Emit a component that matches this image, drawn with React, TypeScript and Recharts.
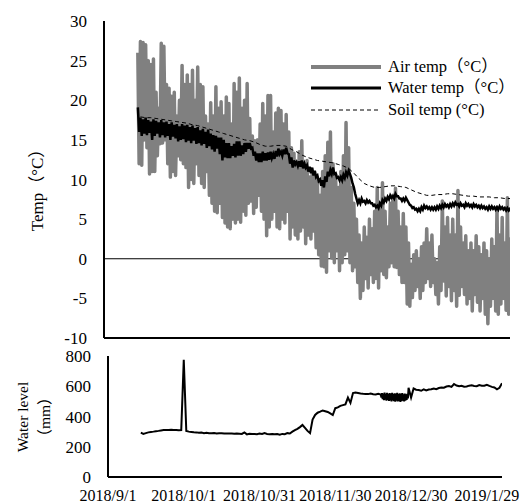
import { Label, Legend, Line, LineChart, ReferenceLine, XAxis, YAxis } from 'recharts';

// days counted from 2018/9/1
const xTickDays = [0, 30, 60, 90, 120, 150];
const xTickLabels = ['2018/9/1', '2018/10/1', '2018/10/31', '2018/11/30', '2018/12/30', '2019/1/29'];
const tempTicks = [-10, -5, 0, 5, 10, 15, 20, 25, 30];
const levelTicks = [0, 200, 400, 600, 800];

// daily series start on day 13 (2018/9/14)
const firstDay = 13;

// air temperature, daily maximum / minimum (°C)
const airHigh = [
  26, 27.4, 27.3, 27, 25, 24.5, 25.2, 21, 19, 27.2,
  26.8, 22, 21.5, 20.5, 21, 18, 20, 24.4, 22, 23.2,
  22, 23.8, 20, 24.2, 22, 21.7, 18, 17, 19.7, 18,
  21.7, 19, 19.8, 18, 20.4, 19.6, 17, 22.1, 21, 22.8,
  19, 20, 22.1, 17.7, 15.5, 14.9, 15, 17, 19.6, 18,
  20.6, 20.6, 16, 18.4, 19, 18.7, 17, 18.2, 16, 14,
  13.3, 12, 13.5, 14.9, 12, 12.4, 10.3, 11, 10.3, 9.9,
  8, 11, 13, 14.7, 16, 12, 10.7, 9, 11, 13,
  17.2, 14, 9, 7, 5, 3, 2, 4, 2.7, 5,
  3.8, 6, 9, 7, 9.6, 6, 4, 7, 8, 8.9,
  6, 4, 5.7, 4, 2, -0.7, 0.5, 1, 0, 1.5,
  2, 3.8, 2, 3, 0, -0.5, 1.5, 7.3, 4, 5.2,
  3, 5, 3, 8.6, 4, 2, 2.9, 1, 2, 1,
  2.9, 1.5, 0.5, 2, 1, 0, 2.5, 1.5, 6.5, 3,
  5.2, 2, 7.7, 2.5,
];
const airLow = [
  12, 11.8, 15, 14, 10.7, 11, 11, 13, 14.5, 14.6,
  15, 12, 10.3, 11, 10.5, 13, 12.5, 12, 11.5, 9,
  10, 9.5, 12, 10.5, 9.5, 9, 11, 8, 7, 6,
  5.8, 7, 5.2, 4.5, 4, 3.8, 5, 4.5, 5, 4.6,
  6, 5.5, 7, 7.3, 5.7, 6.5, 8, 6, 5, 2.9,
  4, 5, 6, 4, 3.8, 5, 4.5, 6, 2.5, 4,
  3, 2.5, 3.5, 4, 1.9, 3, 2.5, 3.5, 1.4, 0.5,
  -0.9, -1, -1.7, 1, 0.1, -0.5, 1, -1.5, -0.5, 0.5,
  1, -0.5, -1.5, -1, -3, -5, -4, -2.5, -3.7, -2,
  -3, -2.5, -3.7, -1.5, -2, -2.4, -1, -0.5, -1, -1.1,
  -2, -3, -3, -5.7, -6, -4.9, -4, -3.5, -5, -4,
  -3, -2.5, -3.5, -3, -4.5, -5.7, -4, -2.8, -4.7, -3.5,
  -5.3, -4, -6, -4.6, -3.5, -4.5, -5.7, -5, -6.6, -4.5,
  -5.5, -6.6, -5, -7, -8.2, -6, -5, -6.6, -7, -5.7,
  -5, -6.5, -7, -3,
];

// water temperature, daily maximum / minimum (°C)
const waterHigh = [
  19.1, 17.8, 17.6, 17.8, 17.5, 17.3, 17.6, 17.4, 17.2, 17.5,
  17.2, 17.3, 17.0, 17.2, 16.9, 17.0, 16.7, 17.0, 16.8, 16.9,
  16.6, 16.8, 16.5, 16.6, 16.2, 16.4, 16.0, 16.3, 15.8, 15.6,
  15.5, 15.3, 15.3, 15.0, 14.6, 14.6, 14.2, 14.5, 14.8, 14.8,
  14.3, 14.6, 14.6, 14.6, 14.0, 13.5, 13.3, 13.3, 13.5, 13.3,
  13.4, 13.5, 13.2, 13.6, 13.9, 13.5, 13.8, 14.0, 13.2, 12.8,
  12.4, 12.2, 12.3, 12.4, 12.0, 11.8, 11.6, 11.5, 11.1, 10.5,
  10.0, 9.9, 10.4, 11.0, 11.2, 11.5, 10.8, 10.3, 10.3, 10.6,
  10.9, 11.1, 10.2, 9.0, 7.6, 7.4, 7.6, 7.3, 7.4, 7.3,
  7.0, 6.8, 6.7, 7.0, 7.4, 7.6, 7.8, 8.0, 7.9, 8.2,
  7.9, 7.6, 7.6, 7.7, 7.1, 6.7, 6.5, 6.3, 6.3, 6.5,
  6.7, 6.6, 6.5, 6.5, 6.5, 6.6, 6.7, 6.8, 6.9, 6.8,
  6.9, 7.0, 7.1, 6.9, 7.0, 6.8, 7.0, 6.9, 6.8, 6.9,
  6.8, 6.7, 6.7, 6.6, 6.5, 6.6, 6.6, 6.5, 6.5, 6.6,
  6.5, 6.4, 6.4, 6.3,
];
const waterLow = [
  16.0, 15.5, 15.8, 15.6, 15.9, 15.0, 15.5, 15.8, 15.3, 15.6,
  15.3, 15.5, 15.0, 15.4, 15.2, 14.8, 15.0, 15.1, 14.7, 14.9,
  14.6, 14.9, 14.5, 14.6, 14.3, 14.5, 14.0, 14.2, 13.8, 13.5,
  13.9, 13.2, 12.4, 12.8, 12.7, 12.7, 13.0, 12.8, 13.0, 13.0,
  13.2, 13.5, 13.9, 13.9, 13.0, 12.4, 12.2, 12.2, 12.4, 12.4,
  12.5, 12.7, 12.6, 12.9, 13.2, 13.0, 13.2, 13.3, 12.0, 11.5,
  11.9, 11.7, 11.6, 11.4, 11.5, 11.0, 10.8, 10.5, 10.3, 9.8,
  9.2, 9.0, 9.7, 10.4, 10.7, 10.7, 10.2, 9.9, 9.9, 10.2,
  10.5, 10.7, 9.5, 8.2, 7.0, 7.0, 7.2, 7.0, 7.1, 7.0,
  6.7, 6.5, 6.4, 6.7, 7.1, 7.3, 7.5, 7.7, 7.6, 7.9,
  7.6, 7.3, 7.3, 7.4, 6.8, 6.4, 6.2, 6.0, 6.0, 6.2,
  6.4, 6.3, 6.2, 6.2, 6.2, 6.3, 6.4, 6.5, 6.6, 6.5,
  6.6, 6.7, 6.8, 6.6, 6.7, 6.5, 6.7, 6.6, 6.5, 6.6,
  6.5, 6.4, 6.4, 6.3, 6.2, 6.3, 6.3, 6.2, 6.2, 6.3,
  6.2, 6.1, 6.1, 6.0,
];

// soil temperature every 2 days from day 14 (°C)
const soilFirstDay = 14;
const soilTemp = [
  17.9, 17.8, 17.8, 17.7, 17.6, 17.5, 17.4, 17.3, 17.2, 17.1,
  16.9, 16.8, 16.6, 16.4, 16.2, 16.0, 15.8, 15.6, 15.4, 15.2,
  15.0, 14.9, 14.7, 14.4, 14.2, 14.2, 14.3, 14.3, 14.2, 13.8,
  13.5, 13.1, 12.8, 12.6, 12.4, 12.3, 12.2, 12.1, 11.9, 11.7,
  11.4, 10.8, 10.1, 9.5, 9.2, 9.0, 9.0, 9.1, 9.2, 9.2,
  9.1, 9.0, 8.7, 8.4, 8.2, 8.0, 8.0, 8.1, 8.1, 8.2,
  8.2, 8.1, 8.0, 7.9, 7.9, 7.8, 7.8, 7.8, 7.7, 7.7,
  7.6, 7.6,
];

// water level, daily (mm), days 13..107
const waterLevel = [
  293, 285, 290, 295, 298, 300, 303, 305, 308, 310,
  310, 311, 312, 310, 310, 309, 310, 775, 304, 300,
  298, 296, 295, 292, 294, 290, 293, 289, 290, 291,
  288, 290, 289, 287, 288, 287, 287, 286, 287, 286,
  285, 295, 282, 286, 284, 285, 283, 287, 284, 290,
  285, 283, 284, 282, 284, 280, 285, 283, 290, 288,
  300, 310, 318, 330, 344, 325, 305, 290, 380, 410,
  425, 432, 440, 435, 430, 420, 410, 455, 460, 470,
  475, 480, 525, 490, 555, 558, 555, 552, 550, 549,
  548, 552, 547, 545, 550,
];
// noisy stretch, every 6 hours (mm), days 108..118.75
const levelBandFirstDay = 108;
const levelBand = [
  545, 525, 555, 515, 552, 508, 558, 512, 550, 505, 556, 510,
  548, 503, 555, 507, 552, 500, 557, 506, 549, 502, 554, 498,
  551, 505, 556, 500, 548, 503, 553, 497, 550, 501, 555, 504,
  547, 499, 552, 505, 546, 510, 550, 520,
];
// water level, daily (mm), days 119..156
const levelLateFirstDay = 119;
const levelLate = [
  590, 525, 585, 577, 575, 570, 580, 572, 578, 580,
  585, 580, 588, 592, 590, 598, 602, 596, 615, 605,
  600, 603, 597, 598, 604, 606, 602, 600, 608, 604,
  603, 610, 602, 596, 592, 580, 590, 620,
];

const legendItems = [
  { name: 'Air temp（°C）', color: '#808080', width: 4, dash: undefined },
  { name: 'Water temp（°C）', color: '#000000', width: 3, dash: undefined },
  { name: 'Soil temp (°C)', color: '#000000', width: 1, dash: '4 3' },
];

const airData = airHigh.flatMap((h, i) => [
  { day: firstDay + i, v: h },
  { day: firstDay + i + 0.5, v: airLow[i] },
]);
const waterData = waterHigh.flatMap((h, i) => [
  { day: firstDay + i, v: h },
  { day: firstDay + i + 0.5, v: waterLow[i] },
]);
const soilData = soilTemp.map((v, i) => ({ day: soilFirstDay + i * 2, v }));
const levelData = [
  ...waterLevel.map((v, i) => ({ day: firstDay + i, v })),
  ...levelBand.map((v, i) => ({ day: levelBandFirstDay + i * 0.25, v })),
  ...levelLate.map((v, i) => ({ day: levelLateFirstDay + i, v })),
];

const FONT = '"Liberation Serif", "Times New Roman", "Noto Sans CJK SC", serif';
const tickStyle = { fontSize: 17, fill: '#000', fontFamily: FONT };
const dateLabel = (v: number) => xTickLabels[xTickDays.indexOf(v)] ?? '';

function TempLegend() {
  return (
    <div style={{ fontFamily: FONT, fontSize: 16.5, color: '#000', lineHeight: '22px' }}>
      {legendItems.map((it, i) => (
        <div key={it.name} style={{ display: 'flex', alignItems: 'center', height: i === 2 ? 24 : 21 }}>
          <svg width={82} height={20}>
            <line x1={5} x2={75} y1={10} y2={10} stroke={it.color} strokeWidth={it.width} strokeDasharray={it.dash} />
          </svg>
          <span style={{ whiteSpace: 'nowrap' }}>{it.name}</span>
        </div>
      ))}
    </div>
  );
}

export default function App() {
  return (
    <div style={{ position: 'relative', width: 526, height: 503, background: '#fff', overflow: 'hidden' }}>
      <style>{'html, body { margin: 0; padding: 0; overflow: hidden; }'}</style>
      <div style={{ position: 'absolute', left: 0, top: 0 }}>
        <LineChart width={526} height={350} margin={{ top: 21, right: 16, bottom: 11, left: 0 }}>
          <XAxis
            type="number"
            dataKey="day"
            domain={[0, 156]}
            ticks={xTickDays}
            tick={false}
            tickLine={false}
            height={1}
            axisLine={{ stroke: '#000', strokeWidth: 2 }}
            allowDataOverflow
          />
          <YAxis
            type="number"
            domain={[-10, 30]}
            ticks={tempTicks}
            interval={0}
            width={104}
            tickLine={false}
            tickSize={0}
            tickMargin={17}
            tick={tickStyle}
            axisLine={{ stroke: '#000', strokeWidth: 2 }}
            allowDataOverflow
          >
            <Label
              content={() => (
                <text
                  x={37}
                  y={186}
                  transform="rotate(-90 37 186)"
                  textAnchor="middle"
                  dominantBaseline="central"
                  style={{ fontFamily: FONT, fontSize: 17, fill: '#000' }}
                >
                  Temp（°C）
                </text>
              )}
            />
          </YAxis>
          <ReferenceLine y={0} stroke="#000" strokeWidth={1} />
          <Line data={airData} dataKey="v" name="Air temp（°C）" stroke="#808080" strokeWidth={3.5}
            dot={false} isAnimationActive={false} strokeLinejoin="round" />
          <Line data={waterData} dataKey="v" name="Water temp（°C）" stroke="#000" strokeWidth={2.5}
            dot={false} isAnimationActive={false} />
          <Line data={soilData} dataKey="v" name="Soil temp (°C)" stroke="#000" strokeWidth={1}
            strokeDasharray="4 3" dot={false} isAnimationActive={false} />
          <Legend
            layout="vertical"
            align="center"
            verticalAlign="middle"
            content={() => <TempLegend />}
            wrapperStyle={{ left: 306, top: 56, width: 220, height: 70 }}
          />
        </LineChart>
      </div>
      <div style={{ position: 'absolute', left: 0, top: 345 }}>
        <LineChart width={526} height={158} margin={{ top: 11, right: 24, bottom: 0, left: 0 }}>
          <XAxis
            type="number"
            dataKey="day"
            domain={[0, 156]}
            ticks={xTickDays}
            tickFormatter={dateLabel}
            tickLine={false}
            tickSize={0}
            tickMargin={13}
            height={26}
            interval={0}
            tick={{ ...tickStyle, fontSize: 16 }}
            axisLine={{ stroke: '#000', strokeWidth: 2 }}
            allowDataOverflow
          />
          <YAxis
            type="number"
            domain={[0, 800]}
            ticks={levelTicks}
            interval={0}
            width={108}
            tickLine={false}
            tickSize={0}
            tickMargin={17}
            tick={tickStyle}
            axisLine={{ stroke: '#000', strokeWidth: 2 }}
          >
            <Label
              content={() => (
                <g style={{ fontFamily: FONT, fontSize: 15.5, fill: '#000' }}>
                  <text x={22} y={72} transform="rotate(-90 22 72)" textAnchor="middle" dominantBaseline="central">
                    Water level
                  </text>
                  <text x={44} y={72} transform="rotate(-90 44 72)" textAnchor="middle" dominantBaseline="central">
                    （mm）
                  </text>
                </g>
              )}
            />
          </YAxis>
          <Line data={levelData} dataKey="v" name="Water level" stroke="#000" strokeWidth={2}
            dot={false} isAnimationActive={false} />
        </LineChart>
      </div>
    </div>
  );
}
